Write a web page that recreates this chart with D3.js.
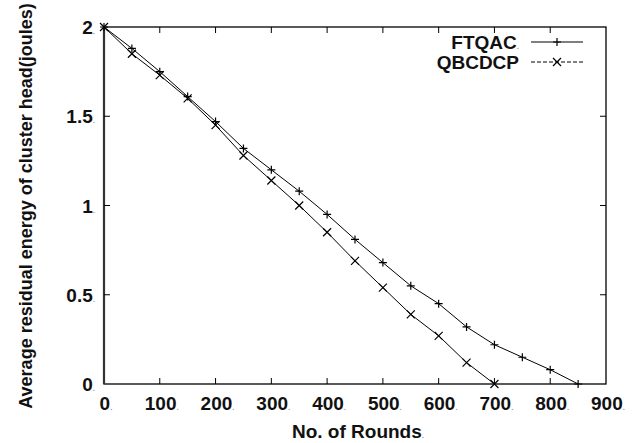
<!DOCTYPE html>
<html>
<head>
<meta charset="utf-8">
<script src="https://cdn.jsdelivr.net/npm/d3@7"></script>
<style>
  body { margin: 0; background: #fff; }
  text { font-family: "Liberation Sans", Arial, sans-serif; font-weight: bold; }
</style>
</head>
<body>
<div id="chart"></div>
<script>
// data
var rounds = [0, 50, 100, 150, 200, 250, 300, 350, 400, 450, 500, 550, 600, 650, 700, 750, 800, 850];
var ftqac = [2, 1.88, 1.75, 1.61, 1.47, 1.32, 1.20, 1.08, 0.95, 0.81, 0.68, 0.55, 0.45, 0.32, 0.22, 0.15, 0.08, 0];
var qbcdcpRounds = [0, 50, 100, 150, 200, 250, 300, 350, 400, 450, 500, 550, 600, 650, 700];
var qbcdcp = [2, 1.85, 1.73, 1.60, 1.45, 1.28, 1.14, 1.00, 0.85, 0.69, 0.54, 0.39, 0.27, 0.12, 0];
var xTicks = [0, 100, 200, 300, 400, 500, 600, 700, 800, 900];
var yTicks = [0, 0.5, 1, 1.5, 2];
var yTickLabels = ["0", "0.5", "1", "1.5", "2"];

var w = 638, h = 443;
var pLeft = 104, pRight = 606, pTop = 27, pBottom = 384;

var svg = d3.select("#chart").append("svg")
    .attr("width", w)
    .attr("height", h);

var x = d3.scaleLinear().domain([0, 900]).range([pLeft, pRight]);
var y = d3.scaleLinear().domain([0, 2]).range([pBottom, pTop]);

// frame
svg.append("rect")
  .attr("x", pLeft).attr("y", pTop)
  .attr("width", pRight - pLeft).attr("height", pBottom - pTop)
  .attr("fill", "none").attr("stroke", "#000").attr("stroke-width", 1.3);
svg.append("line")
  .attr("x1", pLeft).attr("x2", pLeft).attr("y1", pTop).attr("y2", pBottom)
  .attr("stroke", "#333").attr("stroke-width", 2.2);

// ticks, mirrored on both sides, pointing in
var tl = 6;
xTicks.forEach(function(t) {
  if (t == 0 || t == 900) return;
  svg.append("line").attr("x1", x(t)).attr("x2", x(t)).attr("y1", pBottom).attr("y2", pBottom - tl).attr("stroke", "#000");
  svg.append("line").attr("x1", x(t)).attr("x2", x(t)).attr("y1", pTop).attr("y2", pTop + tl).attr("stroke", "#000");
});
yTicks.forEach(function(t) {
  if (t == 0 || t == 2) return;
  svg.append("line").attr("x1", pLeft).attr("x2", pLeft + tl).attr("y1", y(t)).attr("y2", y(t)).attr("stroke", "#000");
  svg.append("line").attr("x1", pRight).attr("x2", pRight - tl).attr("y1", y(t)).attr("y2", y(t)).attr("stroke", "#000");
});

// tick labels (with the little trailing dot of the original)
function label(sel, txt) {
  sel.append("tspan").text(txt);
  sel.append("tspan").text(".").attr("font-size", "8px").attr("fill", "#999");
}
xTicks.forEach(function(t) {
  var tx = svg.append("text")
    .attr("x", x(t) + 2).attr("y", 410)
    .attr("text-anchor", "middle")
    .attr("font-size", "19px")
    .attr("fill", "#111");
  label(tx, String(t));
});
yTicks.forEach(function(t, i) {
  var tx = svg.append("text")
    .attr("x", 95).attr("y", y(t) + 7)
    .attr("text-anchor", "end")
    .attr("font-size", "19px")
    .attr("fill", "#111");
  label(tx, yTickLabels[i]);
});

// axis titles
var xt = svg.append("text")
  .attr("x", 358).attr("y", 438)
  .attr("text-anchor", "middle")
  .attr("font-size", "19px")
  .attr("fill", "#111");
label(xt, "No. of Rounds");

svg.append("text")
  .attr("transform", "translate(32,206) rotate(-90)")
  .attr("text-anchor", "middle")
  .attr("font-size", "18px")
  .attr("fill", "#111")
  .text("Average residual energy of cluster head(joules)");

// lines
var lineA = d3.line()
  .x(function(d, i) { return x(rounds[i]); })
  .y(function(d) { return y(d); });
var lineB = d3.line()
  .x(function(d, i) { return x(qbcdcpRounds[i]); })
  .y(function(d) { return y(d); });

svg.append("path").datum(ftqac)
  .attr("d", lineA).attr("fill", "none").attr("stroke", "#000").attr("stroke-width", 1);
svg.append("path").datum(qbcdcp)
  .attr("d", lineB).attr("fill", "none").attr("stroke", "#000").attr("stroke-width", 1);

// markers
var m = 4;
function plus(cx, cy) {
  svg.append("path")
    .attr("d", "M" + (cx - m) + "," + cy + "H" + (cx + m) + "M" + cx + "," + (cy - m) + "V" + (cy + m))
    .attr("stroke", "#000").attr("stroke-width", 1.2);
}
function cross(cx, cy) {
  svg.append("path")
    .attr("d", "M" + (cx - m) + "," + (cy - m) + "L" + (cx + m) + "," + (cy + m) +
               "M" + (cx - m) + "," + (cy + m) + "L" + (cx + m) + "," + (cy - m))
    .attr("stroke", "#000").attr("stroke-width", 1.2);
}
ftqac.forEach(function(d, i) { plus(x(rounds[i]), y(d)); });
qbcdcp.forEach(function(d, i) { cross(x(qbcdcpRounds[i]), y(d)); });

// legend
var lg = svg.append("g");
var t1 = lg.append("text").attr("x", 519).attr("y", 49).attr("text-anchor", "end")
  .attr("font-size", "19px").attr("fill", "#111");
label(t1, "FTQAC");
lg.append("text").attr("x", 519).attr("y", 69).attr("text-anchor", "end")
  .attr("font-size", "19px").attr("fill", "#111").text("QBCDCP");
lg.append("line").attr("x1", 531).attr("x2", 583).attr("y1", 42).attr("y2", 42)
  .attr("stroke", "#000").attr("stroke-width", 1);
plus(557, 42);
lg.append("line").attr("x1", 531).attr("x2", 583).attr("y1", 62).attr("y2", 62)
  .attr("stroke", "#000").attr("stroke-width", 1).attr("stroke-dasharray", "4,2");
cross(557, 62);
</script>
</body>
</html>
